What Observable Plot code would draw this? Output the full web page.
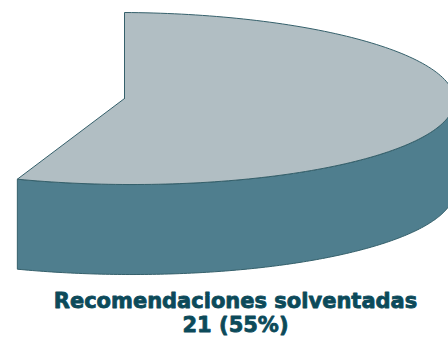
<!DOCTYPE html>
<html>
<head>
<meta charset="utf-8">
<script src="https://cdn.jsdelivr.net/npm/d3@7"></script>
<script src="https://cdn.jsdelivr.net/npm/@observablehq/plot@0.6"></script>
<style>
  html, body { margin: 0; padding: 0; background: #ffffff; }
  #chart { width: 448px; height: 339px; overflow: hidden; }
</style>
</head>
<body>
<div id="chart"></div>
<script>
// ---- data ----
const categories = ["Recomendaciones solventadas", "Otras recomendaciones"];
const values = [21, 17];
const percents = [55, 45];

// ---- layout (pixel space) ----
const W = 448, H = 339;
const cx = 124, cy = 98, rx = 330, ry = 86, tilt = 2, depth = 90;
const topColor = "#b1bec3", sideColor = "#4f7e8e", edgeColor = "#35606b", textColor = "#0c4a5a";

const arcs = d3.pie().sort(null)(values);
const slice = arcs[0];

function pt(t, dz = 0) {
  return {x: cx + rx * Math.sin(t), y: cy - ry * Math.cos(t) + tilt * Math.sin(t) + dz};
}
const N = 160;
function arcPts(t0, t1, dz = 0) {
  return d3.range(N + 1).map(i => pt(t0 + (t1 - t0) * i / N, dz));
}

// top face: centre -> arc -> centre
const topFace = [{x: cx, y: cy}, ...arcPts(slice.startAngle, slice.endAngle), {x: cx, y: cy}];

// visible outer wall: front half of the slice
const s0 = Math.max(slice.startAngle, Math.PI / 2);
const s1 = Math.min(slice.endAngle, 3 * Math.PI / 2);
const upper = arcPts(s0, s1);
const lower = arcPts(s0, s1, depth).reverse();
const sideFace = [...upper, ...lower, upper[0]];

const label = [{x: 235, y: 290, text: `${categories[0]}\n${values[0]} (${percents[0]}%)`}];

const chart = Plot.plot({
  width: W, height: H,
  margin: 0,
  x: {domain: [0, W], range: [0, W], axis: null},
  y: {domain: [0, H], range: [0, H], axis: null},
  style: {background: "#ffffff", overflow: "hidden"},
  marks: [
    Plot.line(sideFace, {x: "x", y: "y", fill: sideColor, stroke: edgeColor, strokeWidth: 1, curve: "linear"}),
    Plot.line(topFace, {x: "x", y: "y", fill: topColor, stroke: edgeColor, strokeWidth: 1, curve: "linear"}),
    Plot.text(label, {
      x: "x", y: "y", text: "text",
      lineAnchor: "top", lineHeight: 1.15,
      fontSize: 21, fontWeight: "bold", fontFamily: "DejaVu Sans",
      fill: textColor, stroke: textColor, strokeWidth: 0.8
    })
  ]
});
document.getElementById("chart").appendChild(chart);
</script>
</body>
</html>
